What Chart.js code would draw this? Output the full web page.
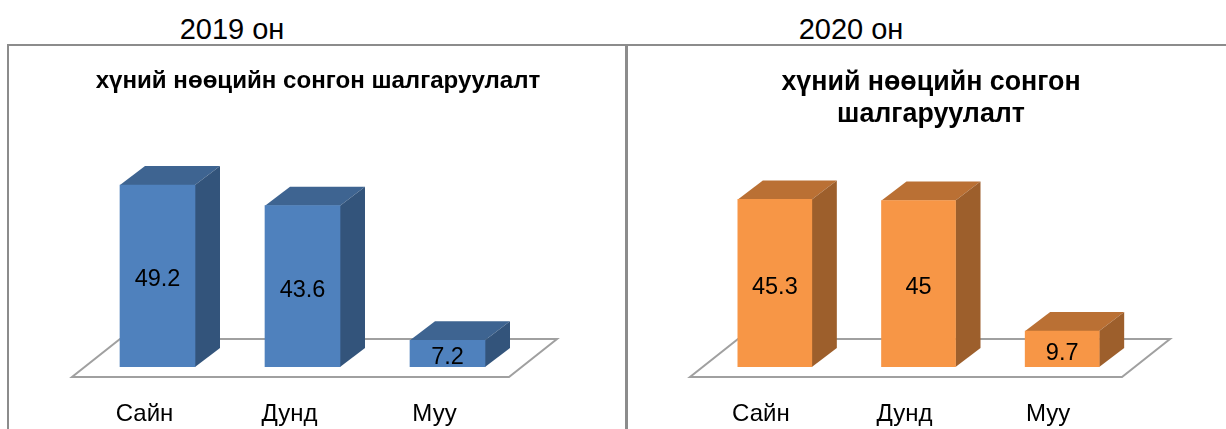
<!DOCTYPE html>
<html>
<head>
<meta charset="utf-8">
<script src="https://cdn.jsdelivr.net/npm/chart.js@4"></script>
<style>
html,body{margin:0;padding:0;background:#fff;width:1226px;height:429px;overflow:hidden}
.year{position:absolute;top:13px;font:29px "Liberation Sans",Arial,sans-serif;color:#000;white-space:nowrap;transform:translateX(-50%)}
.rule{position:absolute;background:#8c8c8c}
canvas{position:absolute;top:46px}
</style>
</head>
<body>
<div class="year" style="left:232px">2019 он</div>
<div class="year" style="left:851px">2020 он</div>
<div class="rule" style="left:7px;top:44px;width:1219px;height:2px"></div>
<div class="rule" style="left:7px;top:44px;width:2px;height:385px"></div>
<div class="rule" style="left:625px;top:44px;width:3px;height:385px"></div>
<canvas id="c2019" width="618" height="383" style="left:9px"></canvas>
<canvas id="c2020" width="606" height="383" style="left:628px"></canvas>
<script>
const categories = ["Сайн", "Дунд", "Муу"];
const values2019 = [49.2, 43.6, 7.2];
const values2020 = [45.3, 45, 9.7];
const title2019 = "хүний нөөцийн сонгон шалгаруулалт";
const title2020 = ["хүний нөөцийн сонгон", "шалгаруулалт"];
const palette2019 = {front: "#4F81BD", top: "#3E6491", side: "#33547B"};
const palette2020 = {front: "#F79646", top: "#BA7034", side: "#9D5F2C"};

const FONT = '"Liberation Sans", Arial, sans-serif';
const DEPTH_X = 25, DEPTH_Y = 19;

const box3d = {
  id: "box3d",
  beforeDatasetsDraw(chart, args, o) {
    const c = chart.ctx, a = chart.chartArea;
    c.save();
    c.beginPath();
    c.moveTo(a.left + o.floorL, a.bottom + 10);
    c.lineTo(a.right + o.floorR, a.bottom + 10);
    c.lineTo(a.right + o.floorR + 48, a.bottom - 28);
    c.lineTo(a.left + o.floorL + 48, a.bottom - 28);
    c.closePath();
    c.fillStyle = "#fff";
    c.fill();
    c.strokeStyle = "#a0a0a0";
    c.lineWidth = 2;
    c.stroke();
    chart.getDatasetMeta(0).data.forEach(b => {
      const l = b.x - b.width / 2, r = b.x + b.width / 2;
      c.fillStyle = o.top;
      c.beginPath();
      c.moveTo(l, b.y);
      c.lineTo(l + DEPTH_X, b.y - DEPTH_Y);
      c.lineTo(r + DEPTH_X, b.y - DEPTH_Y);
      c.lineTo(r, b.y);
      c.closePath();
      c.fill();
      c.fillStyle = o.side;
      c.beginPath();
      c.moveTo(r, b.y);
      c.lineTo(r + DEPTH_X, b.y - DEPTH_Y);
      c.lineTo(r + DEPTH_X, b.base - DEPTH_Y);
      c.lineTo(r, b.base);
      c.closePath();
      c.fill();
    });
    c.restore();
  },
  afterDatasetsDraw(chart) {
    const c = chart.ctx, ds = chart.data.datasets[0];
    c.save();
    c.font = "23.5px " + FONT;
    c.fillStyle = "#000";
    c.textAlign = "center";
    c.textBaseline = "middle";
    chart.getDatasetMeta(0).data.forEach((b, i) => {
      c.fillText(String(ds.data[i]), b.x, (b.y + b.base) / 2 + 4);
    });
    c.restore();
  }
};

function build(id, values, title, pal, cfg) {
  const hiddenAxis = (position, width) => ({
    position, min: 0, max: 60,
    grid: {display: false}, border: {display: false}, ticks: {display: false},
    afterFit: s => { s.width = width; }
  });
  new Chart(document.getElementById(id), {
    type: "bar",
    data: {labels: categories, datasets: [{data: values, backgroundColor: pal.front, borderWidth: 0, barThickness: cfg.bar, yAxisID: "y"}]},
    options: {
      responsive: false,
      animation: false,
      events: [],
      layout: {padding: 0},
      plugins: {
        legend: {display: false},
        tooltip: {enabled: false},
        title: {display: true, text: title, color: "#000",
          font: {family: FONT, size: cfg.titleSize, weight: "bold", lineHeight: cfg.titleLine},
          padding: {top: cfg.titleTop, bottom: cfg.titleBottom}},
        box3d: {top: pal.top, side: pal.side, floorL: cfg.floorL, floorR: cfg.floorR}
      },
      scales: {
        x: {
          grid: {display: false}, border: {display: false},
          afterFit: s => { s.height = 62; },
          ticks: {color: "#000", font: {family: FONT, size: 24}, padding: 25, labelOffset: cfg.tickShift, maxRotation: 0}
        },
        y: hiddenAxis("left", cfg.left),
        y2: hiddenAxis("right", cfg.right)
      }
    },
    plugins: [box3d]
  });
}

build("c2019", values2019, title2019, palette2019, {bar: 75, left: 76, right: 107, tickShift: -13, titleSize: 24.1, titleLine: 1.2, titleTop: 21, titleBottom: 49.1, floorL: -13, floorR: -11});
build("c2020", values2020, title2020, palette2020, {bar: 74, left: 75, right: 100, tickShift: -14, titleSize: 26.8, titleLine: 1.194, titleTop: 21, titleBottom: 14, floorL: -13, floorR: -12});
</script>
</body>
</html>
